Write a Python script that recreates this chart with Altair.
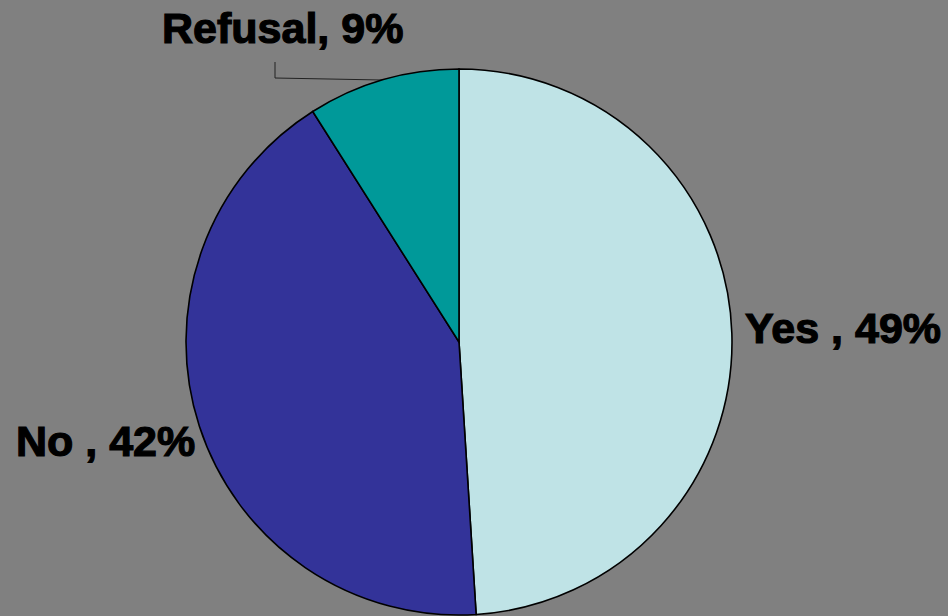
import altair as alt
import pandas as pd

categories = ["Yes", "No", "Refusal"]
values = [49, 42, 9]
labels = ["Yes , 49%", "No , 42%", "Refusal, 9%"]
colors = ["#BFE3E6", "#333399", "#009999"]

# layout (label anchor positions in pixels)
label_x = [745, 16, 162]
label_y = [343, 456, 43]

df = pd.DataFrame({"cat": categories, "val": values, "order": [0, 1, 2]})
lab = pd.DataFrame({"text": labels, "lx": label_x, "ly": label_y})
leader = pd.DataFrame({"px": [275, 275, 382], "py": [62, 78, 80], "i": [0, 1, 2]})

W, H = 948, 616
xs = alt.Scale(domain=[0, W], range=[0, W])
ys = alt.Scale(domain=[0, H], range=[0, H])

pie = alt.Chart(df).mark_arc(stroke="black", strokeWidth=1.6, outerRadius=273).encode(
    theta=alt.Theta("val:Q", stack=True),
    order=alt.Order("order:Q"),
    color=alt.Color("cat:N", scale=alt.Scale(domain=categories, range=colors), legend=None),
    x=alt.value(459),
    y=alt.value(342),
)

text = alt.Chart(lab).mark_text(
    font="Liberation Sans", fontWeight="bold", fontSize=43, align="left", baseline="alphabetic",
    color="black", stroke="black", strokeWidth=1.2
).encode(
    x=alt.X("lx:Q", scale=xs, axis=None),
    y=alt.Y("ly:Q", scale=ys, axis=None),
    text="text:N",
)

line = alt.Chart(leader).mark_line(color="#222222", strokeWidth=1).encode(
    x=alt.X("px:Q", scale=xs, axis=None),
    y=alt.Y("py:Q", scale=ys, axis=None),
    order="i:Q",
)

chart = alt.layer(line, pie, text).properties(
    width=W, height=H, padding=0, background="#808080",
    autosize=alt.AutoSizeParams(type="none"),
).configure_view(stroke=None, fill="#808080")

chart.save("out.html", embed_options={"renderer": "svg", "actions": False})
